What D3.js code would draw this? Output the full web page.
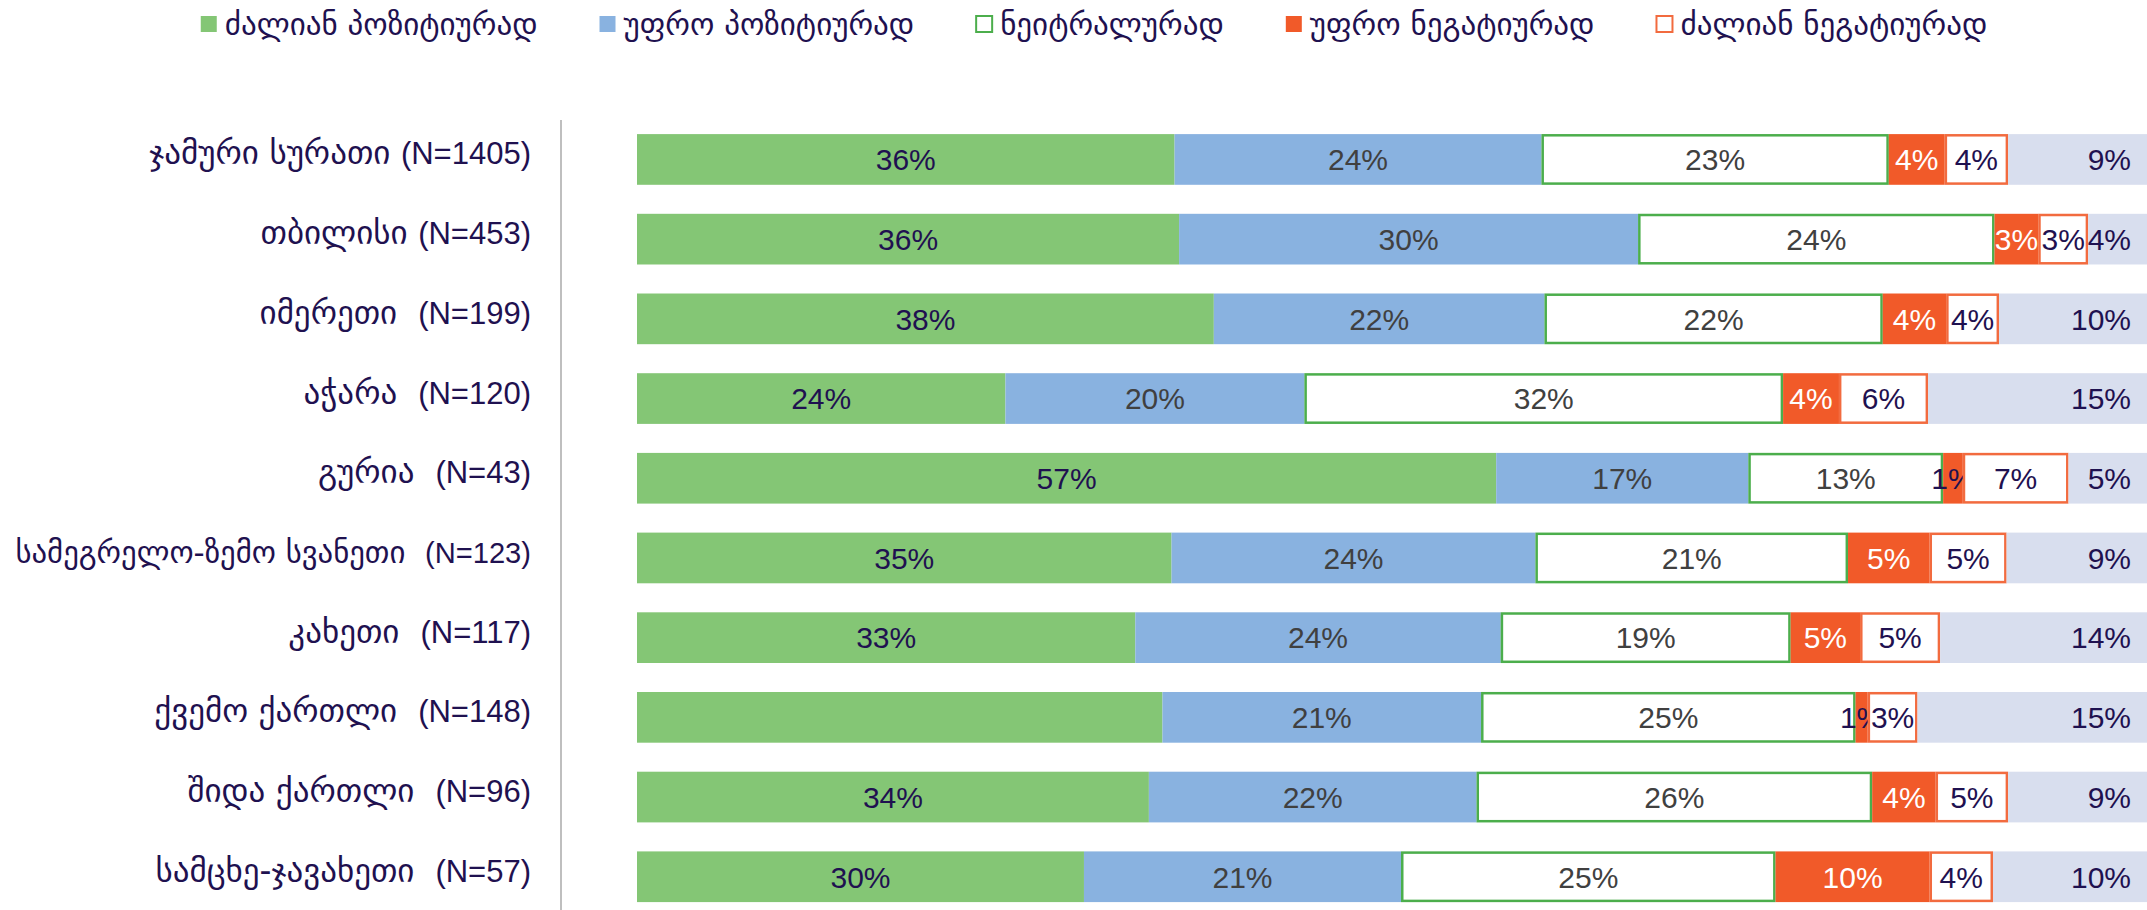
<!DOCTYPE html>
<html><head><meta charset="utf-8">
<script src="https://cdn.jsdelivr.net/npm/d3@7"></script>
<style>html,body{margin:0;padding:0;background:#fff;overflow:hidden} text{white-space:pre}</style>
</head><body><svg id="c" width="2147" height="910"></svg>
<script>
// ---- data ----
const categories = [
  "ჯამური სურათი (N=1405)",
  "თბილისი (N=453)",
  "იმერეთი  (N=199)",
  "აჭარა  (N=120)",
  "გურია  (N=43)",
  "სამეგრელო-ზემო სვანეთი  (N=123)",
  "კახეთი  (N=117)",
  "ქვემო ქართლი  (N=148)",
  "შიდა ქართლი  (N=96)",
  "სამცხე-ჯავახეთი  (N=57)"
];
const seriesNames = ["ძალიან პოზიტიურად","უფრო პოზიტიურად","ნეიტრალურად","უფრო ნეგატიურად","ძალიან ნეგატიურად","არ ვიცი"];
const veryPositive   = [35.6,35.9,38.2,24.4,56.9,35.4,33.0,34.8,33.9,29.6];
const ratherPositive = [24.3,30.4,21.9,19.8,16.7,24.1,24.2,21.1,21.7,21.0];
const neutral        = [23.0,23.6,22.4,31.7,12.9,20.7,19.2,24.8,26.2,24.8];
const ratherNegative = [3.7,2.9,4.2,3.7,1.3,5.4,4.6,0.8,4.2,10.2];
const veryNegative   = [4.2,3.3,3.5,5.9,7.0,5.1,5.3,3.3,4.8,4.2];
const dontKnow       = [9.2,4.0,9.8,14.5,5.3,9.3,13.7,15.2,9.2,10.2];
const legendSeries = seriesNames.slice(0,5);
const hiddenGreenLabels = ["ქვემო ქართლი  (N=148)"];

// ---- styles ----
const fills   = ["#84C675","#89B2E0","#FFFFFF","#F15A29","#FFFFFF","#D8DEEE"];
const strokes = [null,null,"#4CAE4C",null,"#F26B3F",null];
const labelColors = ["#1F1150","#404040","#404040","#FFFFFF","#1F1150","#1F1150"];
const navy = "#1F1150";

const svg = d3.select("#c");
const W = 2147, H = 910;

const table = categories.map((c,i)=>{
  const o = {cat:c};
  [veryPositive,ratherPositive,neutral,ratherNegative,veryNegative,dontKnow]
    .forEach((arr,k)=>{o[seriesNames[k]] = arr[i];});
  return o;
});
const stack = d3.stack().keys(seriesNames)(table);

const x = d3.scaleLinear().domain([0,100]).range([637, W]);
const y = d3.scaleBand().domain(categories).range([119.6, 916.6]).paddingInner(0.364).paddingOuter(0.182);

// axis line
svg.append("line").attr("x1",561).attr("x2",561).attr("y1",120).attr("y2",H)
  .attr("stroke","#BFBFBF").attr("stroke-width",2);

// category labels (Georgian part + "(N=..)" part)
const labelRight = 531, labelMaxW = 515;
const yAxis = d3.axisLeft(y).tickSize(0).tickPadding(0);
const gy = svg.append("g").attr("transform",`translate(${labelRight},0)`).call(yAxis);
gy.select(".domain").remove();
gy.selectAll("text").each(function(d){
  const t = d3.select(this).text(null)
    .attr("fill",navy).attr("dy","0.5em");
  const idx = d.indexOf("(");
  const a = t.append("tspan").attr("font-family","'DejaVu Sans',sans-serif").attr("font-size",33)
    .text(d.slice(0,idx));
  const b = t.append("tspan").attr("font-family","'Liberation Sans',Arial,sans-serif").attr("font-size",31)
    .text(d.slice(idx));
  const w = this.getBBox().width;
  if (w > labelMaxW) {
    const f = labelMaxW / w;
    a.attr("font-size",33*f); b.attr("font-size",31*Math.max(f,0.94));
  }
});

// bars
const gs = svg.append("g").selectAll("g").data(stack).join("g");
gs.each(function(s,k){
  const g = d3.select(this);
  g.selectAll("rect").data(s).join("rect")
    .attr("x",d=>x(d[0]) + (strokes[k]?1.2:0))
    .attr("y",d=>y(d.data.cat) + (strokes[k]?1.2:0))
    .attr("width",d=>Math.max(0,x(d[1])-x(d[0]) - (strokes[k]?2.4:0)))
    .attr("height",y.bandwidth() - (strokes[k]?2.4:0))
    .attr("fill",fills[k])
    .attr("stroke",strokes[k]||"none")
    .attr("stroke-width",strokes[k]?2.5:0);
});

// labels
gs.each(function(s,k){
  const g = d3.select(this);
  g.selectAll("text").data(s.filter(d=>!(k===0 && hiddenGreenLabels.includes(d.data.cat))))
    .join("text")
    .attr("x",d=> k===5 ? x(100)-16 : (x(d[0])+x(d[1]))/2)
    .attr("y",d=>y(d.data.cat)+y.bandwidth()/2)
    .attr("dy","0.36em")
    .attr("text-anchor",k===5?"end":"middle")
    .attr("font-family","'Liberation Sans',Arial,sans-serif")
    .attr("font-size",30)
    .attr("fill",d=> (k===3 && (d[1]-d[0])<2) ? navy : labelColors[k])
    .text(d=>Math.round(d[1]-d[0])+"%");
});

// legend
const lg = svg.append("g");
const items = lg.selectAll("g").data(legendSeries).join("g");
items.append("rect").attr("x",0).attr("y",-8).attr("width",16).attr("height",16)
  .attr("fill",(d,i)=>fills[i]).attr("stroke",(d,i)=>strokes[i]||"none")
  .attr("stroke-width",(d,i)=>strokes[i]?2:0);
items.append("text").attr("x",24).attr("y",0).attr("dy","0.35em")
  .attr("font-family","'DejaVu Sans',sans-serif").attr("font-size",31)
  .attr("fill",navy).text(d=>d);
let cx = 0;
items.each(function(){
  const w = this.getBBox().width;
  d3.select(this).attr("transform",`translate(${cx},24)`);
  cx += w + 62;
});
const total = cx - 62;
lg.attr("transform",`translate(${1094 - total/2},0)`);
</script></body></html>
